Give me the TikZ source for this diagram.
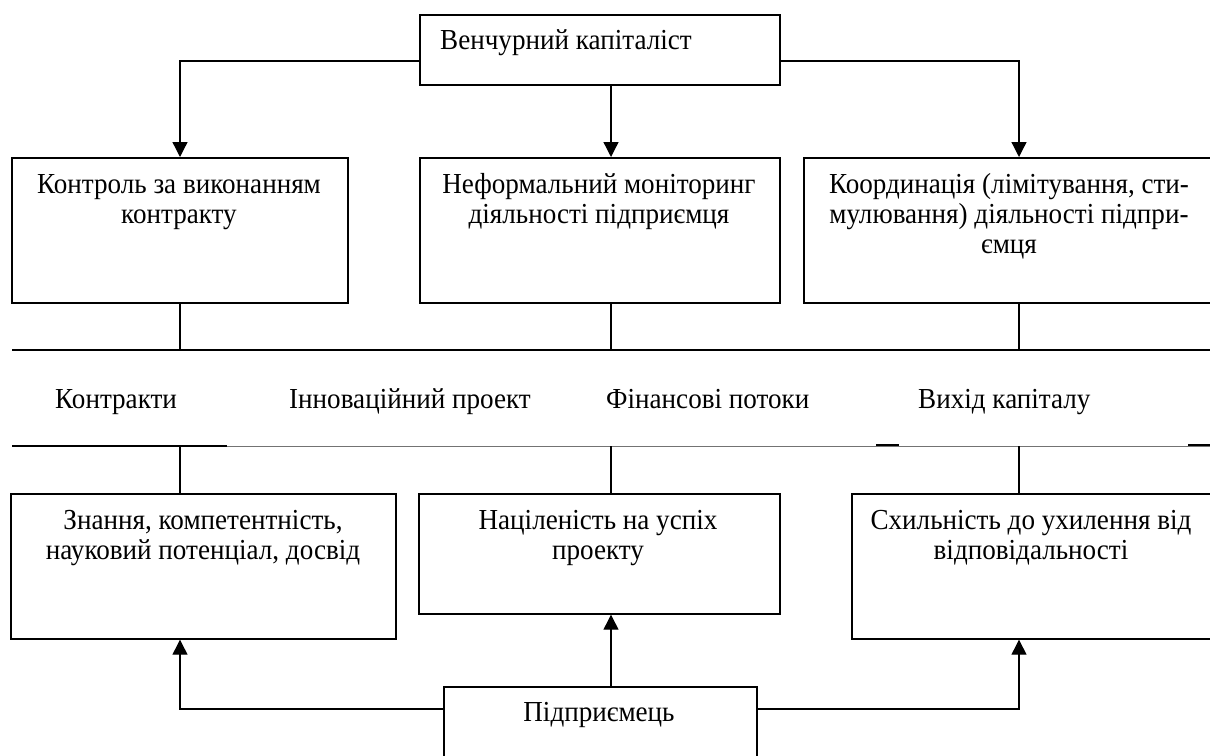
\documentclass[tikz,border=0pt]{standalone}
\usepackage{fontspec}
\setmainfont[FakeStretch=0.935]{Liberation Serif}
\usetikzlibrary{arrows.meta}
\begin{document}
\begin{tikzpicture}[x=1pt,y=-1pt,
  box/.style={draw, line width=1.7pt, inner sep=0pt, anchor=north west},
  txt/.style={font=\fontsize{29}{30}\selectfont, align=center, inner sep=0pt, anchor=base},
  ltxt/.style={font=\fontsize{29}{30}\selectfont, inner sep=0pt, anchor=base west},
  conn/.style={line width=1.3pt},
  arr/.style={conn, -{Triangle[length=15pt,width=15pt]}},
  bandline/.style={line width=1.7pt},
  thinline/.style={line width=0.9pt, black!55}]
\useasboundingbox (0,0) rectangle (1210,755);
% reference levels
\coordinate (lvl) at (0,61);
\coordinate (elev) at (0,709);
\coordinate (colA) at (180,0);
\coordinate (colB) at (611,0);
\coordinate (colC) at (1019,0);
\coordinate (bandtop) at (0,350);
\coordinate (bandbot) at (0,446);
% boxes
\node[box, minimum width=360pt, minimum height=70pt] (vk) at (419,14) {};
\node[box, minimum width=336pt, minimum height=145pt] (c1) at (11,157) {};
\node[box, minimum width=360pt, minimum height=145pt] (c2) at (419,157) {};
\node[box, minimum width=412pt, minimum height=145pt] (c3) at (803,157) {};
\node[box, minimum width=385pt, minimum height=145pt] (d1) at (10,493) {};
\node[box, minimum width=361pt, minimum height=120pt] (d2) at (418,493) {};
\node[box, minimum width=362pt, minimum height=145pt] (d3) at (851,493) {};
\node[box, minimum width=313pt, minimum height=72pt] (p) at (443,686) {};
% texts (anchor = baseline of the last line)
\node[ltxt] (vkt) at (440,49) {Венчурний капіталіст};
\node[txt] (t1) at (179,223) {Контроль за виконанням\\контракту};
\node[txt] (t2) at (599,223) {Неформальний моніторинг\\діяльності підприємця};
\node[txt] (t3) at (1009,253) {Координація (лімітування, сти-\\мулювання) діяльності підпри-\\ємця};
\node[ltxt] (m1) at (55,408) {Контракти};
\node[ltxt] (m2) at (289,408) {Інноваційний проект};
\node[ltxt] (m3) at (606,408) {Фінансові потоки};
\node[ltxt] (m4) at (918,408) {Вихід капіталу};
\node[txt] (b1) at (203,559) {Знання, компетентність,\\науковий потенціал, досвід};
\node[txt] (b2) at (598,559) {Націленість на успіх\\проекту};
\node[txt] (b3) at (1031,559) {Схильність до ухилення від\\відповідальності};
\node[txt] (pt) at (599,721) {Підприємець};
% band lines
\coordinate (btL) at (12,350);
\coordinate (btR) at (1212,350);
\draw[bandline] (btL) -- (btR);
\coordinate (bbL) at (12,446);
\coordinate (bbM) at (227,446);
\coordinate (bbR) at (1212,446);
\draw[thinline] (bbM) -- (bbR);
\draw[bandline] (bbL) -- (bbM);
\coordinate (bs1) at (876,445);
\coordinate (bs2) at (899,445);
\coordinate (bs3) at (1188,445);
\coordinate (bs4) at (1212,445);
\draw[bandline] (bs1) -- (bs2);
\draw[bandline] (bs3) -- (bs4);
% top connectors
\draw[arr] (vk.west |- lvl) -| (colA |- c1.north);
\draw[arr] (colB |- vk.south) -- (colB |- c2.north);
\draw[arr] (vk.east |- lvl) -| (colC |- c3.north);
% to band
\draw[conn] (colA |- c1.south) -- (colA |- bandtop);
\draw[conn] (colB |- c2.south) -- (colB |- bandtop);
\draw[conn] (colC |- c3.south) -- (colC |- bandtop);
\draw[conn] (colA |- bandbot) -- (colA |- d1.north);
\draw[conn] (colB |- bandbot) -- (colB |- d2.north);
\draw[conn] (colC |- bandbot) -- (colC |- d3.north);
% bottom connectors
\draw[arr] (p.west |- elev) -| (colA |- d1.south);
\draw[arr] (colB |- p.north) -- (colB |- d2.south);
\draw[arr] (p.east |- elev) -| (colC |- d3.south);
\end{tikzpicture}
\end{document}
